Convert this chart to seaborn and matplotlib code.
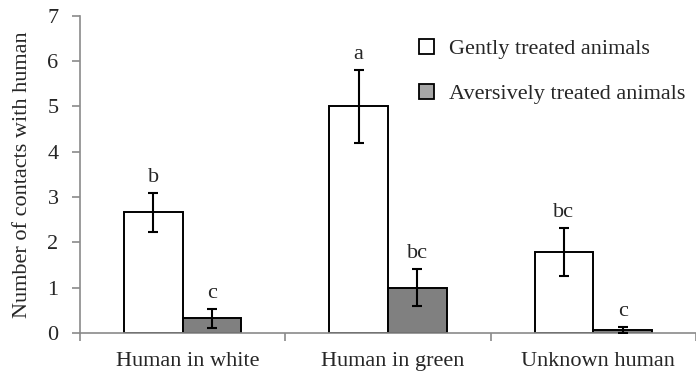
import matplotlib
matplotlib.use("Agg")
import matplotlib.pyplot as plt
from matplotlib.patches import Patch
from matplotlib.transforms import ScaledTranslation
import pandas as pd
import seaborn as sns

# Mean number of contacts per stimulus person and treatment group
categories = ["Human in white", "Human in green", "Unknown human"]
groups = ["Gently treated animals", "Aversively treated animals"]
gentle_mean = [2.66, 5.0, 1.79]
aversive_mean = [0.32, 1.0, 0.07]
gentle_err = [0.43, 0.80, 0.53]
aversive_err = [0.21, 0.41, 0.06]
gentle_letters = ["b", "a", "bc"]
aversive_letters = ["c", "bc", "c"]
y_ticks = [0, 1, 2, 3, 4, 5, 6, 7]

df = pd.DataFrame({
    "category": categories * 2,
    "group": [groups[0]] * 3 + [groups[1]] * 3,
    "mean": gentle_mean + aversive_mean,
})

sns.set_theme(style="white")
plt.rcParams["font.family"] = ["Liberation Serif", "DejaVu Serif"]

bar_colors = {groups[0]: "white", groups[1]: "#808080"}
legend_colors = {groups[0]: "white", groups[1]: "#a6a6a6"}
axis_grey = "#8a8a8a"

fig = plt.figure(figsize=(6.96, 3.79), dpi=100)
ax = fig.add_axes([80 / 696, 46 / 379, 616 / 696, 317.3 / 379])

sns.barplot(data=df, x="category", y="mean", hue="group", order=categories,
            hue_order=groups, palette=bar_colors, errorbar=None, width=0.573,
            gap=0, edgecolor="black", linewidth=1.4, saturation=1, ax=ax)

bar_containers = list(ax.containers)
errs = [gentle_err, aversive_err]
letters = [gentle_letters, aversive_letters]
means = [gentle_mean, aversive_mean]
for gi, container in enumerate(bar_containers):
    for ci, bar in enumerate(container.patches):
        cx = bar.get_x() + bar.get_width() / 2
        m = means[gi][ci]
        e = errs[gi][ci]
        ax.errorbar(cx, m, yerr=e, color="black", elinewidth=1.5,
                    capsize=3.8, capthick=1.5, fmt="none", zorder=5)
        ax.annotate(letters[gi][ci], (cx, m + e), xytext=(0, 8),
                    textcoords="offset points", ha="center", va="baseline",
                    fontsize=16)

ax.get_legend().remove()
handles = [Patch(facecolor=legend_colors[g], edgecolor="black", linewidth=1.3)
           for g in groups]
fig.legend(handles, groups, loc="upper left", bbox_to_anchor=(410 / 696, 1 - 30 / 379),
           frameon=False, fontsize=16, handlelength=0.7, handleheight=0.7,
           handletextpad=0.65, labelspacing=1.1, borderaxespad=0)

ax.set_xlim(-0.5, 2.48)
ax.set_ylim(0, 7)
ax.set_yticks(y_ticks)
ax.set_xlabel("")
ax.set_ylabel("Number of contacts with human", fontsize=16, labelpad=11)

ax.set_xticks([0, 1, 2])
ax.set_xticklabels(categories)
ax.set_xticks([-0.5, 0.5, 1.5, 2.5], minor=True)
ax.tick_params(axis="x", which="major", length=0, pad=14, labelsize=16)
ax.tick_params(axis="x", which="minor", length=5.5, width=1.2, color=axis_grey,
               direction="out", bottom=True)
ax.tick_params(axis="y", length=5.5, width=1.2, color=axis_grey, direction="out",
               left=True, pad=10, labelsize=16)

# category labels sit slightly right of the bar groups
shift = ScaledTranslation(5 / 100, 0, fig.dpi_scale_trans)
for lab in ax.get_xticklabels():
    lab.set_transform(lab.get_transform() + shift)

for side in ["top", "right"]:
    ax.spines[side].set_visible(False)
for side in ["left", "bottom"]:
    ax.spines[side].set_color(axis_grey)
    ax.spines[side].set_linewidth(1.2)

fig.savefig("out.png", dpi=100)
